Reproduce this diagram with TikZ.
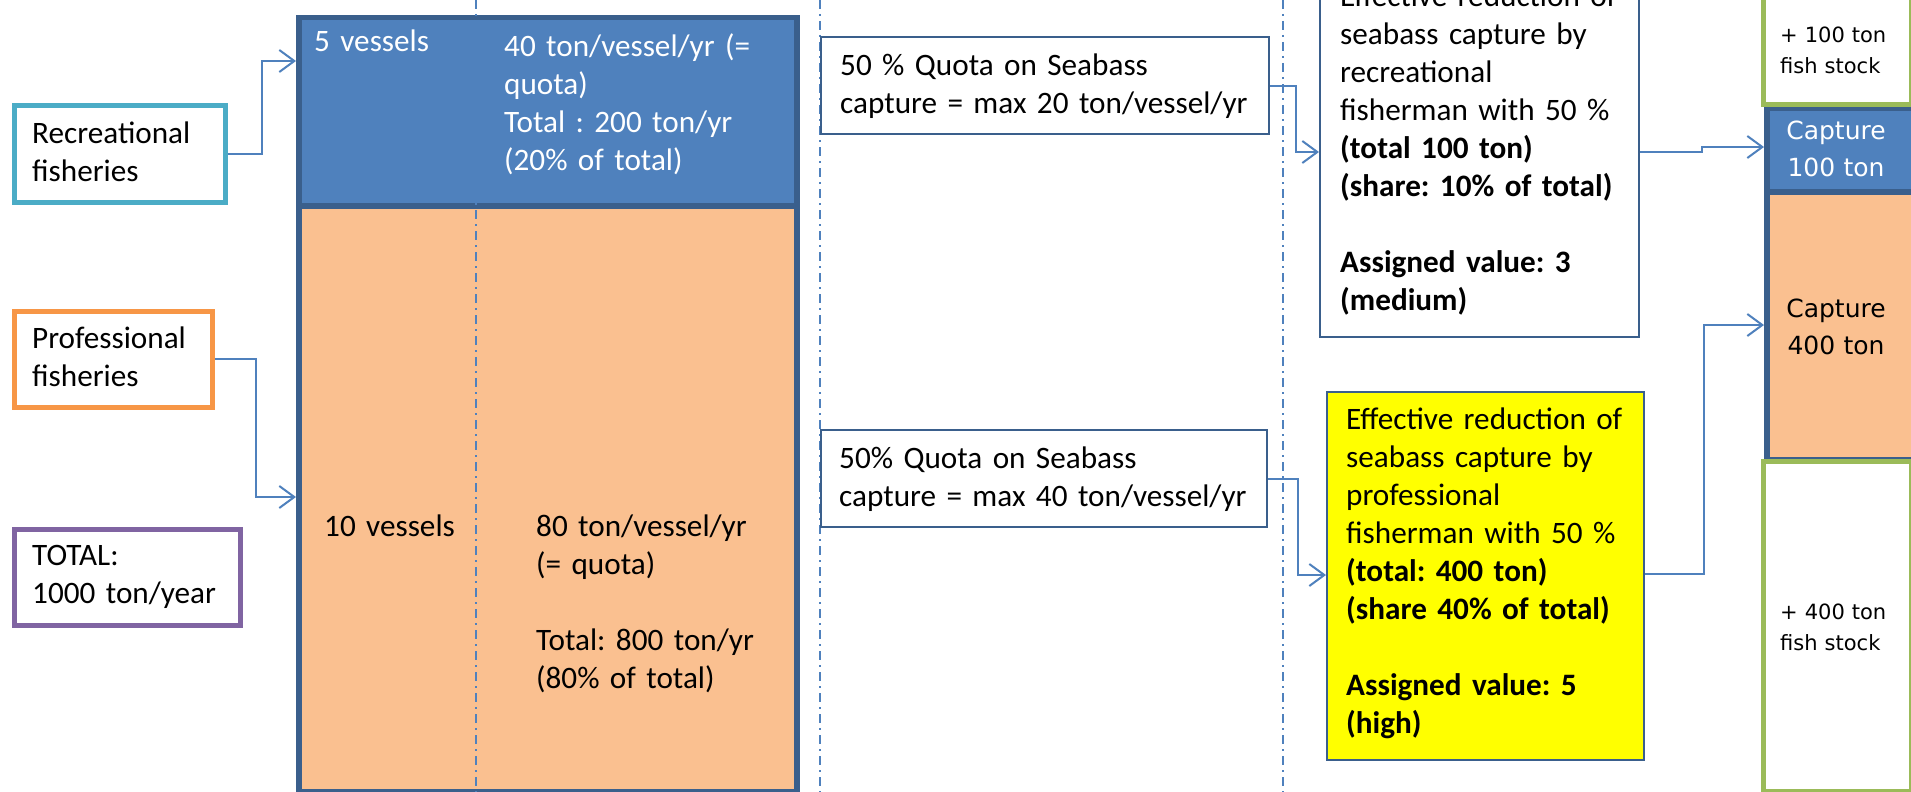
\documentclass[tikz,border=0pt]{standalone}
\usepackage{fontspec}
\setmainfont{Carlito}
\newfontfamily\verdfont{DejaVu Sans}
\usetikzlibrary{arrows.meta}
\frenchspacing
\definecolor{fillblue}{HTML}{4F81BD}
\definecolor{darkblue}{HTML}{3A5F8C}
\definecolor{fillorange}{HTML}{FAC090}
\definecolor{tealb}{HTML}{4BACC6}
\definecolor{orangeb}{HTML}{F79646}
\definecolor{purpleb}{HTML}{8064A2}
\definecolor{greenb}{HTML}{9BBB59}
\definecolor{arrowblue}{HTML}{4F81BD}
\definecolor{yellowf}{HTML}{FFFF00}
\tikzset{
  shapebox/.style={draw, rectangle, inner sep=0pt, outer sep=auto, anchor=north west},
  mainblue/.style={shapebox, fill=fillblue, draw=darkblue, line width=5.5pt},
  mainorange/.style={shapebox, fill=fillorange, draw=darkblue, line width=5.5pt},
  leftbox/.style={shapebox, fill=white, line width=4.5pt},
  quotabox/.style={shapebox, fill=white, draw=darkblue, line width=2pt},
  stockbox/.style={shapebox, fill=white, draw=greenb, line width=4.5pt},
  txt/.style={font=\fontsize{31.2}{38}\selectfont, text width=600pt, align=left, inner sep=0pt, anchor=base west},
  captxt/.style={font=\verdfont\fontsize{25}{37}\selectfont, text width=160pt, align=center, inner sep=0pt, anchor=base},
  stocktxt/.style={font=\verdfont\fontsize{21}{31}\selectfont, text width=160pt, align=left, inner sep=0pt, anchor=base west},
  conn/.style={draw=arrowblue, line width=2pt, -{Straight Barb[length=15pt,width=22pt,line width=2pt]}},
  dashdotline/.style={draw=arrowblue, line width=2pt, dash pattern=on 9pt off 5pt on 2pt off 5pt}
}
\begin{document}
\begin{tikzpicture}[x=1pt,y=-1pt]
\useasboundingbox (0,0) rectangle (1911,792);
\clip (0,0) rectangle (1911,792);
\fill[white] (0,0) rectangle (1911,792);

% left boxes
\node[leftbox, draw=tealb, minimum width=211pt, minimum height=97pt] (rec) at (12,103) {};
\node[leftbox, draw=orangeb, minimum width=198pt, minimum height=96pt] (prof) at (12,309) {};
\node[leftbox, draw=purpleb, minimum width=226pt, minimum height=96pt] (total) at (12,527) {};
\node[txt] (rectxt) at (32,143) {Recreational\\fisheries};
\node[txt] (proftxt) at (32,348) {Professional\\fisheries};
\node[txt] (totaltxt) at (32,565) {TOTAL:\\1000 ton/year};

% main box
\node[mainblue, minimum width=498pt, minimum height=188pt] (topbox) at (296,15) {};
\node[mainorange, minimum width=498pt, minimum height=586pt] (botbox) at (296,203) {};
\node[txt, text=white] (fivev) at (314,52) {5 vessels};
\node[txt, text=white] (toptxt) at (504,57) {40 ton/vessel/yr (=\\quota)\\Total : 200 ton/yr\\(20\% of total)};
\node[txt] (tenv) at (324,536) {10 vessels};
\node[txt] (bottxt) at (536,536) {80 ton/vessel/yr\\(= quota)\\[38pt]Total: 800 ton/yr\\(80\% of total)};

% dash-dot separators
\draw[dashdotline] (476,0) -- (476,792);
\draw[dashdotline] (820,0) -- (820,792);
\draw[dashdotline] (1283,0) -- (1283,792);

% quota boxes
\node[quotabox, minimum width=448pt, minimum height=97pt] (q1) at (820,36) {};
\node[quotabox, minimum width=446pt, minimum height=97pt] (q2) at (820,429) {};
\node[txt] (q1txt) at (840,75) {50 \% Quota on Seabass\\capture = max 20 ton/vessel/yr};
\node[txt] (q2txt) at (839,468) {50\% Quota on Seabass\\capture = max 40 ton/vessel/yr};

% effect boxes
\node[quotabox, minimum width=319pt, minimum height=356pt] (e1) at (1319,-20) {};
\node[quotabox, fill=yellowf, minimum width=317pt, minimum height=368pt] (e2) at (1326,391) {};
\node[txt] (e1txt) at (1340,7) {Effective reduction of\\seabass capture by\\recreational\\fisherman with 50 \%\\\textbf{(total 100 ton)}\\\textbf{(share: 10\% of total)}\\[38pt]\textbf{Assigned value: 3}\\\textbf{(medium)}};
\node[txt] (e2txt) at (1346,429) {Effective reduction of\\seabass capture by\\professional\\fisherman with 50 \%\\\textbf{(total: 400 ton)}\\\textbf{(share 40\% of total)}\\[38pt]\textbf{Assigned value: 5}\\\textbf{(high)}};

% right column
\node[mainblue, minimum width=170pt, minimum height=84pt] (cap100) at (1764,105) {};
\node[mainorange, minimum width=170pt, minimum height=268pt] (cap400) at (1764,189) {};
\node[stockbox, minimum width=148pt, minimum height=122pt] (stock1) at (1761,-20) {};
\node[stockbox, minimum width=148pt, minimum height=330pt] (stock2) at (1761,459) {};
\node[captxt, text=white] (cap100txt) at (1836,139) {Capture\\100 ton};
\node[captxt] (cap400txt) at (1836,317) {Capture\\400 ton};
\node[stocktxt] (stock1txt) at (1780,43) {+ 100 ton\\fish stock};
\node[stocktxt] (stock2txt) at (1780,619) {+ 400 ton\\fish stock};

% connectors
\draw[conn] (rec.east) -- ++(34,0) |- (topbox.west |- 0,61);
\draw[conn] (prof.east) -- ++(41,0) |- (botbox.west |- 0,497);
\draw[conn] (q1.east) -- ++(26,0) |- (e1.west |- 0,152);
\draw[conn] (q2.east) -- ++(30,0) |- (e2.west |- 0,575);
\draw[conn] (e1.east |- 0,152) -- ++(62,0) -- ++(0,-5) -- (cap100.west |- 0,147);
\draw[conn] (e2.east |- 0,574) -- ++(59,0) |- (cap400.west |- 0,325);
\end{tikzpicture}
\end{document}
